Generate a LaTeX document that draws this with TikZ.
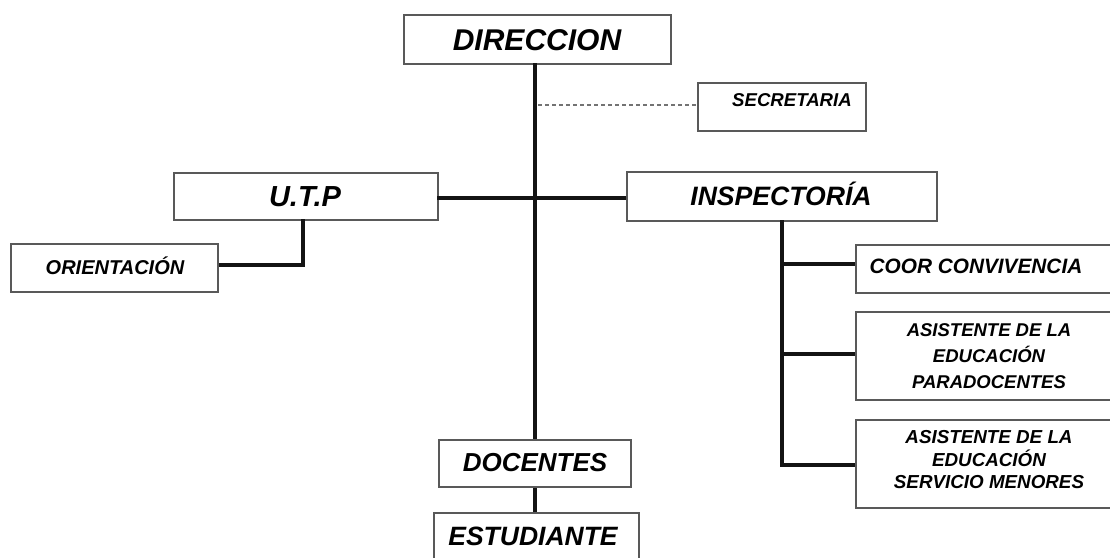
\documentclass[tikz,border=0pt]{standalone}
\usepackage{fontspec}
\setmainfont{Liberation Sans}
\begin{document}
\begin{tikzpicture}[x=1pt,y=-1pt,
  box/.style={draw=black!65, line width=2.2pt, fill=white, inner sep=0pt, anchor=north west},
  lbl/.style={font=\bfseries\itshape, text=black, inner sep=0pt, align=center},
  conn/.style={line width=3.2pt, black!92},
  dashconn/.style={line width=1.8pt, black!55, dash pattern=on 4pt off 3pt}]
\clip (0,0) rectangle (1110,557);
% boxes
\node[box, minimum width=267pt, minimum height=49pt] (dir) at (403,14) {};
\node[box, minimum width=168pt, minimum height=48pt] (sec) at (697,82) {};
\node[box, minimum width=264pt, minimum height=47pt] (utp) at (173,172) {};
\node[box, minimum width=207pt, minimum height=48pt] (ori) at (10,243) {};
\node[box, minimum width=310pt, minimum height=49pt] (insp) at (626,171) {};
\node[box, minimum width=262pt, minimum height=48pt] (coor) at (855,244) {};
\node[box, minimum width=262pt, minimum height=88pt] (asa) at (855,311) {};
\node[box, minimum width=262pt, minimum height=88pt] (asb) at (855,419) {};
\node[box, minimum width=192pt, minimum height=47pt] (doc) at (438,439) {};
\node[box, minimum width=205pt, minimum height=55pt] (est) at (433,512) {};
% labels
\node[lbl, font=\fontsize{30}{36}\selectfont\bfseries\itshape] (tdir) at (537,40) {DIRECCION};
\node[lbl, font=\fontsize{18.6}{22}\selectfont\bfseries\itshape] (tsec) at (792,100) {SECRETARIA};
\node[lbl, font=\fontsize{29}{34}\selectfont\bfseries\itshape] (tutp) at (305,197) {U.T.P};
\node[lbl, font=\fontsize{20}{24}\selectfont\bfseries\itshape] (tori) at (115,266) {ORIENTACIÓN};
\node[lbl, font=\fontsize{26.6}{32}\selectfont\bfseries\itshape] (tinsp) at (781,194) {INSPECTORÍA};
\node[lbl, font=\fontsize{20.8}{25}\selectfont\bfseries\itshape] (tcoor) at (976,266) {COOR CONVIVENCIA};
\node[lbl, font=\fontsize{18.5}{26}\selectfont\bfseries\itshape] (tasa) at (989,356) {ASISTENTE DE LA\\EDUCACIÓN\\PARADOCENTES};
\node[lbl, font=\fontsize{18.8}{22.5}\selectfont\bfseries\itshape] (tasb) at (989,460) {ASISTENTE DE LA\\EDUCACIÓN\\SERVICIO MENORES};
\node[lbl, font=\fontsize{26}{31}\selectfont\bfseries\itshape] (tdoc) at (535,463) {DOCENTES};
\node[lbl, font=\fontsize{26.5}{31}\selectfont\bfseries\itshape] (test) at (533,536) {ESTUDIANTE};
% connector helper coordinates
\coordinate (mtop) at (535,63);
\coordinate (mdash) at (538,105);
\coordinate (mbot) at (535,439);
\coordinate (hl) at (437,198);
\coordinate (hr) at (626,198);
\coordinate (ua) at (303,219);
\coordinate (ub) at (303,265);
\coordinate (ia) at (782,220);
\coordinate (ib) at (782,264);
\coordinate (ic) at (782,354);
\coordinate (id) at (782,465);
% connectors
\draw[conn] (mtop) -- (mbot);
\draw[dashconn] (mdash) -- (sec.west |- mdash);
\draw[conn] (hl) -- (hr);
\draw[conn] (ua) -- (ub) -- (ori.east |- ub);
\draw[conn] (ia) -- (id) -- (asb.west |- id);
\draw[conn] (ib) -- (coor.west |- ib);
\draw[conn] (ic) -- (asa.west |- ic);
\draw[conn] (doc.south -| mbot) -- (est.north -| mbot);
\end{tikzpicture}
\end{document}
